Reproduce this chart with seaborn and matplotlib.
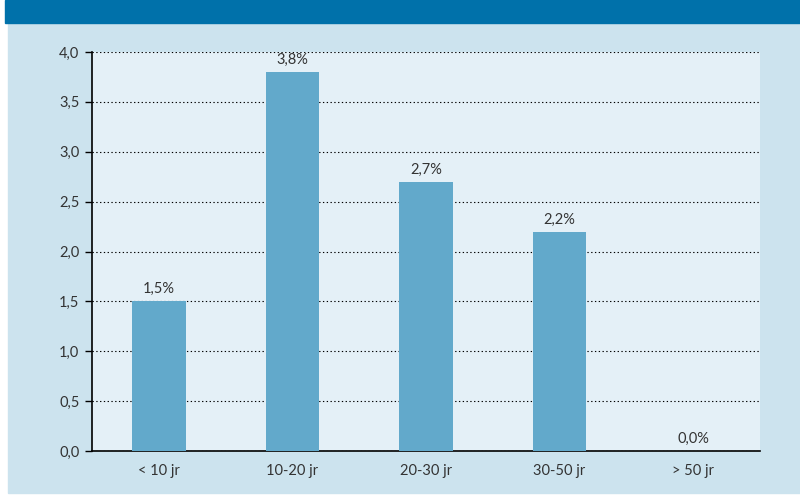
import numpy as np
import pandas as pd
import matplotlib.pyplot as plt
import seaborn as sns
from matplotlib.patches import Rectangle
from matplotlib.ticker import MultipleLocator, FuncFormatter

# data
categories = ["< 10 jr", "10-20 jr", "20-30 jr", "30-50 jr", "> 50 jr"]
values = [1.5, 3.8, 2.7, 2.2, 0.0]
df = pd.DataFrame({"cat": categories, "val": values})

sns.set_theme(style="white")
plt.rcParams['font.family'] = ['Lato', 'DejaVu Sans']

fig = plt.figure(figsize=(8, 4.95), dpi=100)
fig.patch.set_facecolor("white")
# outer light-blue panel and the dark title band
fig.patches.append(Rectangle((8 / 800, 2 / 495), 792 / 800, 470 / 495,
                             transform=fig.transFigure, color="#CCE3EE", zorder=-10))
fig.patches.append(Rectangle((5 / 800, 472 / 495), 795 / 800, 23 / 495,
                             transform=fig.transFigure, color="#0071AA", zorder=-10))

ax = fig.add_axes([92 / 800, 44 / 495, 668 / 800, 399 / 495])
ax.set_facecolor("#E4F0F7")

sns.barplot(data=df, x="cat", y="val", color="#62A9CB", width=0.4,
            saturation=1, linewidth=0, ax=ax, zorder=3)

for i, v in enumerate(values):
    ax.text(i, v + 0.05, f"{v:.1f}%".replace(".", ","), ha="center", va="bottom",
            fontsize=10.5, color="#333333", zorder=4)

ax.set_xlim(-0.5, 4.5)
ax.set_ylim(0, 4.0)
ax.yaxis.set_major_locator(MultipleLocator(0.5))
ax.yaxis.set_major_formatter(FuncFormatter(lambda y, _: f"{y:.1f}".replace(".", ",")))
ax.grid(axis="y", color="black", linestyle=(0, (1.2, 2.2)), linewidth=0.8, zorder=1)
ax.set_axisbelow(True)

# x ticks at category boundaries, labels centred
ax.set_xticks(np.arange(-0.5, 5, 1))
ax.set_xticklabels([])
ax.set_xticks(range(len(categories)), minor=True)
ax.set_xticklabels(categories, minor=True)
ax.tick_params(axis="x", which="major", direction="out", length=4, width=1, color="black")
ax.tick_params(axis="x", which="minor", length=0, pad=9, labelsize=10.5, labelcolor="#333333")
ax.tick_params(axis="y", direction="out", length=5, width=1, color="black", pad=4,
               labelsize=10.5, labelcolor="#333333", left=True)

for s in ["top", "right"]:
    ax.spines[s].set_visible(False)
for s in ["left", "bottom"]:
    ax.spines[s].set_color("black")
    ax.spines[s].set_linewidth(1.2)

ax.set_xlabel("")
ax.set_ylabel("")

plt.savefig("out.png", dpi=100)
plt.close()
